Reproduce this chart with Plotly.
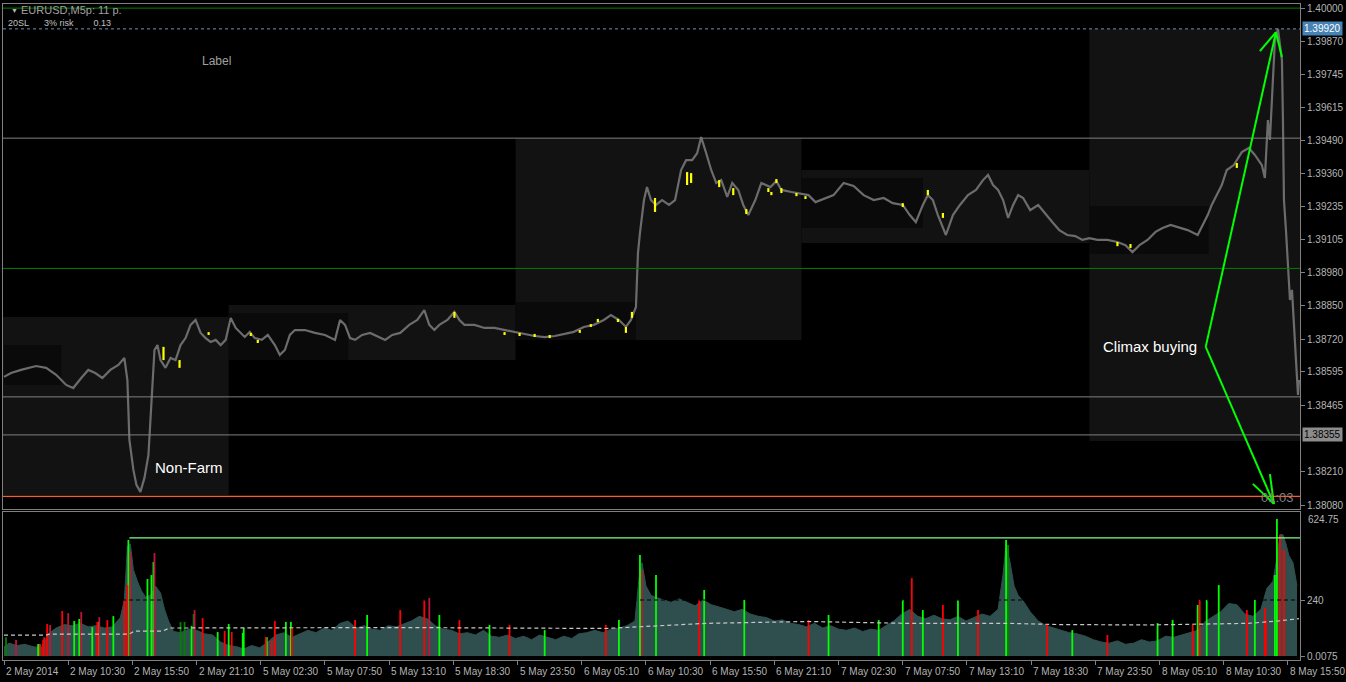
import plotly.graph_objects as go

# ---------------- data ----------------
# M5 bar index (0 = first bar on chart) and close prices
bar_idx = [0, 7, 17, 32, 42, 52, 62, 69, 77, 84, 91, 98, 106, 114, 120, 123, 125, 127, 129, 132, 136, 140,
           144, 146, 148, 150, 153, 156, 161, 166, 171, 176, 181, 186, 191, 196, 201, 206, 211, 216, 221,
           226, 231, 236, 240, 245, 250, 257, 263, 270, 275, 280, 285, 290, 300, 310, 320, 330, 335, 340,
           345, 350, 357, 365, 373, 380, 387, 395, 404, 412, 419, 424, 429, 434, 442, 449, 454, 459, 469,
           479, 489, 499, 509, 519, 529, 539, 549, 559, 568, 578, 588, 598, 605, 613, 620, 625, 630, 632,
           634, 638, 641, 645, 650, 656, 663, 669, 675, 680, 686, 691, 695, 700, 705, 710, 715, 721, 726,
           732, 737, 742, 749, 755, 764, 770, 775, 785, 792, 802, 809, 819, 827, 837, 847, 857, 867, 877,
           886, 896, 903, 909, 916, 921, 926, 931, 939, 946, 953, 961, 969, 976, 981, 986, 991, 996, 1001,
           1006, 1011, 1016, 1023, 1031, 1039, 1045, 1052, 1060, 1068, 1075, 1082, 1090, 1100, 1110, 1118,
           1125, 1132, 1140, 1148, 1155, 1163, 1170, 1180, 1190, 1195, 1200, 1204, 1209, 1214, 1219, 1226,
           1234, 1241, 1247, 1254, 1257, 1260, 1262, 1265, 1267, 1270, 1272, 1274, 1275, 1276, 1278, 1280,
           1282, 1284, 1286, 1288, 1290, 1291]
close_px = [1.38576, 1.38591, 1.38603, 1.38618, 1.38611, 1.38584, 1.38545, 1.38533, 1.38572, 1.38603,
            1.38591, 1.38572, 1.38603, 1.38622, 1.38649, 1.38564, 1.38333, 1.38275, 1.38217, 1.38159,
            1.38132, 1.38186, 1.38275, 1.38410, 1.38564, 1.38680, 1.38699, 1.38641, 1.38611, 1.38649,
            1.38641, 1.38699, 1.38726, 1.38777, 1.38796, 1.38746, 1.38726, 1.38711, 1.38719, 1.38699,
            1.38719, 1.38804, 1.38765, 1.38746, 1.38730, 1.38750, 1.38726, 1.38719, 1.38738, 1.38699,
            1.38661, 1.38680, 1.38738, 1.38757, 1.38757, 1.38746, 1.38738, 1.38719, 1.38796, 1.38777,
            1.38726, 1.38719, 1.38738, 1.38746, 1.38730, 1.38719, 1.38738, 1.38746, 1.38777, 1.38796,
            1.38834, 1.38777, 1.38757, 1.38777, 1.38796, 1.38827, 1.38796, 1.38777, 1.38777, 1.38765,
            1.38765, 1.38757, 1.38750, 1.38742, 1.38734, 1.38730, 1.38734, 1.38742, 1.38750, 1.38769,
            1.38777, 1.38796, 1.38815, 1.38796, 1.38769, 1.38796, 1.38846, 1.39054, 1.39132, 1.39259,
            1.39309, 1.39259, 1.39240, 1.39259, 1.39240, 1.39259, 1.39375, 1.39413, 1.39413, 1.39440,
            1.39502, 1.39440, 1.39375, 1.39325, 1.39336, 1.39271, 1.39325, 1.39298, 1.39240, 1.39201,
            1.39259, 1.39325, 1.39309, 1.39332, 1.39298, 1.39290, 1.39286, 1.39278, 1.39251, 1.39267,
            1.39278, 1.39325, 1.39313, 1.39278, 1.39259, 1.39267, 1.39247, 1.39240, 1.39201, 1.39174,
            1.39240, 1.39278, 1.39259, 1.39201, 1.39124, 1.39201, 1.39240, 1.39278, 1.39298, 1.39336,
            1.39356, 1.39317, 1.39298, 1.39259, 1.39190, 1.39240, 1.39278, 1.39267, 1.39220, 1.39240,
            1.39201, 1.39174, 1.39143, 1.39124, 1.39120, 1.39105, 1.39112, 1.39105, 1.39105, 1.39097,
            1.39085, 1.39058, 1.39085, 1.39105, 1.39136, 1.39151, 1.39163, 1.39155, 1.39143, 1.39124,
            1.39163, 1.39201, 1.39240, 1.39278, 1.39317, 1.39375, 1.39394, 1.39444, 1.39460, 1.39433,
            1.39394, 1.39344, 1.39568, 1.39491, 1.39761, 1.39877, 1.39920, 1.39857, 1.39799, 1.39568,
            1.39259, 1.39143, 1.38989, 1.38873, 1.38912, 1.38757, 1.38641, 1.38506, 1.38564]

# highlighted (yellow) bars: index, low, high
yel_idx = [159, 175, 204, 246, 253, 449, 499, 514, 529, 544, 574, 585, 592, 612, 620, 626, 649, 681, 685,
           713, 727, 740, 762, 765, 770, 775, 790, 799, 896, 921, 936, 1110, 1123, 1229]
yel_lo = [1.38641, 1.38611, 1.38738, 1.38734, 1.38707, 1.38804, 1.38738, 1.38734, 1.38730, 1.38726,
          1.38746, 1.38769, 1.38788, 1.38788, 1.38746, 1.38804, 1.39213, 1.39317, 1.39325, 1.39309,
          1.39278, 1.39205, 1.39290, 1.39278, 1.39325, 1.39286, 1.39274, 1.39263, 1.39232, 1.39278,
          1.39190, 1.39081, 1.39074, 1.39383]
yel_hi = [1.38692, 1.38641, 1.38749, 1.38746, 1.38719, 1.38827, 1.38749, 1.38746, 1.38742, 1.38738,
          1.38757, 1.38780, 1.38800, 1.38800, 1.38769, 1.38827, 1.39267, 1.39367, 1.39363, 1.39336,
          1.39305, 1.39224, 1.39305, 1.39290, 1.39340, 1.39305, 1.39286, 1.39274, 1.39247, 1.39298,
          1.39209, 1.39097, 1.39089, 1.39402]

# volume histogram (envelope)
vol_idx = [0, 5, 13, 21, 29, 37, 44, 52, 60, 68, 76, 84, 92, 100, 108, 116, 120, 123, 126, 129, 133, 137,
           141, 146, 151, 156, 160, 164, 169, 176, 184, 192, 200, 208, 216, 224, 232, 239, 247, 255, 263,
           271, 279, 287, 295, 303, 311, 319, 327, 335, 343, 351, 359, 367, 375, 383, 391, 399, 406, 414,
           422, 430, 438, 446, 454, 462, 470, 478, 486, 494, 502, 510, 518, 526, 534, 542, 550, 558, 566,
           573, 581, 589, 597, 605, 613, 621, 629, 633, 636, 640, 645, 651, 657, 665, 673, 681, 689, 697,
           705, 713, 721, 728, 736, 744, 752, 760, 768, 776, 784, 792, 800, 808, 816, 824, 832, 840, 848,
           856, 864, 872, 879, 887, 895, 903, 911, 919, 927, 935, 943, 951, 959, 967, 975, 983, 991, 996,
           999, 1003, 1007, 1011, 1017, 1023, 1031, 1039, 1046, 1054, 1062, 1070, 1078, 1086, 1094, 1102,
           1110, 1118, 1126, 1134, 1142, 1150, 1158, 1166, 1174, 1182, 1190, 1198, 1205, 1213, 1221, 1229,
           1237, 1245, 1253, 1259, 1265, 1269, 1272, 1275, 1278, 1281, 1285, 1289]
vol_val = [40, 55, 45, 50, 40, 35, 95, 120, 135, 130, 140, 125, 130, 120, 125, 165, 240, 470, 480, 370,
           320, 280, 253, 260, 300, 270, 200, 150, 105, 100, 115, 110, 95, 90, 60, 45, 40, 30, 45, 35, 60,
           90, 100, 80, 95, 110, 100, 120, 110, 140, 150, 120, 130, 115, 110, 130, 125, 140, 150, 170, 160,
           130, 115, 110, 95, 100, 90, 110, 85, 80, 90, 75, 85, 70, 90, 80, 70, 85, 75, 95, 100, 110, 100,
           115, 120, 130, 150, 330, 400, 300, 260, 250, 240, 230, 245, 230, 215, 240, 220, 210, 200, 190,
           200, 180, 170, 165, 150, 155, 140, 135, 125, 140, 120, 130, 115, 110, 120, 105, 115, 110, 130,
           150, 180, 200, 170, 160, 175, 160, 155, 170, 150, 165, 180, 170, 200, 350, 480, 400, 300, 260,
           230, 190, 150, 130, 120, 110, 100, 95, 85, 70, 60, 55, 65, 50, 55, 70, 60, 65, 85, 80, 90, 100,
           110, 150, 170, 190, 225, 220, 180, 170, 200, 290, 320, 420, 520, 520, 480, 430, 400, 300]

# colored volume bars: index, value, colour class
spk_idx = [2, 12, 34, 35, 36, 39, 40, 43, 46, 58, 64, 70, 75, 77, 88, 93, 94, 95, 103, 109, 120, 123, 124,
           126, 143, 147, 149, 150, 176, 180, 187, 189, 190, 198, 213, 220, 224, 227, 238, 239, 261, 262,
           267, 270, 281, 286, 287, 350, 362, 395, 419, 424, 434, 454, 484, 504, 539, 600, 613, 634, 636,
           650, 693, 698, 738, 802, 822, 872, 896, 905, 916, 936, 951, 971, 999, 1001, 1040, 1065, 1100,
           1150, 1165, 1185, 1190, 1192, 1199, 1211, 1239, 1247, 1257, 1258, 1267, 1269, 1272, 1276]
spk_val = [81, 69, 51, 51, 51, 69, 80, 137, 133, 193, 184, 150, 159, 189, 124, 146, 146, 167, 154, 171,
           240, 304, 497, 446, 330, 347, 403, 441, 146, 146, 129, 180, 197, 163, 103, 107, 137, 103, 99,
           120, 81, 81, 64, 150, 146, 146, 124, 154, 176, 197, 240, 249, 176, 154, 133, 133, 111, 133, 154,
           433, 369, 347, 240, 283, 240, 154, 176, 154, 240, 334, 197, 219, 240, 197, 497, 476, 133, 111,
           90, 141, 154, 133, 219, 240, 240, 304, 197, 240, 206, 154, 347, 587, 519, 454]
spk_cls = ['dg', 'dr', 'g', 'g', 'r', 'r', 'r', 'r', 'dr', 'r', 'dr', 'g', 'g', 'dr', 'g', 'r', 'g', 'dr',
           'r', 'g', 'r', 'r', 'g', 'dr', 'g', 'g', 'g', 'dr', 'dg', 'dg', 'g', 'dg', 'dr', 'r', 'g', 'r',
           'g', 'r', 'g', 'g', 'r', 'g', 'r', 'r', 'g', 'g', 'r', 'r', 'g', 'r', 'r', 'dr', 'g', 'r', 'g',
           'r', 'g', 'r', 'g', 'g', 'dr', 'g', 'r', 'g', 'g', 'r', 'g', 'g', 'g', 'r', 'g', 'r', 'g', 'r',
           'g', 'dg', 'r', 'g', 'r', 'g', 'g', 'r', 'g', 'r', 'g', 'g', 'r', 'g', 'r', 'r', 'g', 'g', 'r', 'r']

# volume moving average (dashed)
ma_idx = [0, 42, 45, 125, 130, 158, 165, 300, 400, 600, 650, 700, 800, 900, 1000, 1050, 1140, 1240, 1270, 1291]
ma_val = [90, 90, 94, 94, 107, 107, 120, 120, 122, 118, 128, 140, 148, 140, 140, 135, 133, 140, 150, 160]

# daily range boxes (outer) and session boxes (inner): start, end, low, high
day_x0 = [-1, 224, 510, 795, 1082]
day_x1 = [224, 510, 795, 1082, 1292]
day_lo = [1.38120, 1.38641, 1.38719, 1.39093, 1.38329]
day_hi = [1.38807, 1.38854, 1.39498, 1.39375, 1.39919]
ses_x0 = [0, 224, 510, 795, 1082]
ses_x1 = [57, 343, 630, 916, 1201]
ses_lo = [1.38545, 1.38641, 1.38719, 1.39151, 1.39051]
ses_hi = [1.38699, 1.38823, 1.38865, 1.39344, 1.39236]

# horizontal levels
lvl_green = [1.40000, 1.38995]
lvl_grey = [1.39498, 1.38499, 1.38352]
lvl_orange = 1.38115
lvl_dashed = 1.39920
vol_high_level = 506
vol_high_start = 125
vol_mid_level = 240

# arrows ("Climax buying")
arr_up_x = [1198, 1268]
arr_up_y = [1.38692, 1.39907]
arr_up_w1 = [1252, 1.39834]
arr_up_w2 = [1274, 1.39811]
arr_dn_x = [1198, 1266]
arr_dn_y = [1.38692, 1.38086]
arr_dn_w1 = [1245, 1.38163]
arr_dn_w2 = [1262, 1.38201]

# axis ticks
price_ticks = [1.40000, 1.39870, 1.39745, 1.39615, 1.39490, 1.39360, 1.39235, 1.39105, 1.38980,
               1.38850, 1.38720, 1.38595, 1.38465, 1.38210, 1.38080]
time_tick_idx = [0, 64, 128, 192, 256, 320, 384, 448, 512, 576, 640, 704, 768, 832, 896, 960, 1024,
                 1088, 1152, 1216, 1280]
time_tick_lbl = ["2 May 2014", "2 May 10:30", "2 May 15:50", "2 May 21:10", "5 May 02:30", "5 May 07:50",
                 "5 May 13:10", "5 May 18:30", "5 May 23:50", "6 May 05:10", "6 May 10:30", "6 May 15:50",
                 "6 May 21:10", "7 May 02:30", "7 May 07:50", "7 May 13:10", "7 May 18:30", "7 May 23:50",
                 "8 May 05:10", "8 May 10:30", "8 May 15:50"]

# ---------------- figure ----------------
FONT = "Liberation Sans"
AX = "#808080"
TXT = "#b4b4b4"
XR = [-1, 1292]

fig = go.Figure()

fig.add_trace(go.Scatter(x=bar_idx, y=close_px, mode="lines", line=dict(color="#6c6c6c", width=2.2),
                         xaxis="x", yaxis="y", hoverinfo="skip"))
yx, yy = [], []
for i, lo, hi in zip(yel_idx, yel_lo, yel_hi):
    yx += [i, i, None]
    yy += [lo, hi, None]
fig.add_trace(go.Scatter(x=yx, y=yy, mode="lines", line=dict(color="#ffff00", width=2.2),
                         xaxis="x", yaxis="y", hoverinfo="skip"))

fig.add_trace(go.Scatter(x=vol_idx, y=vol_val, mode="lines", fill="tozeroy", fillcolor="#2f4f4f",
                         line=dict(color="#2f4f4f", width=1), xaxis="x2", yaxis="y2", hoverinfo="skip"))
cls_col = {"g": "#00ff00", "r": "#ff0000", "dg": "#008000", "dr": "#c0143c"}
for c, col in cls_col.items():
    sx, sy = [], []
    for i, v, k in zip(spk_idx, spk_val, spk_cls):
        if k == c:
            sx += [i, i, None]
            sy += [0, v, None]
    fig.add_trace(go.Scatter(x=sx, y=sy, mode="lines", line=dict(color=col, width=1.8),
                             xaxis="x2", yaxis="y2", hoverinfo="skip"))
fig.add_trace(go.Scatter(x=ma_idx, y=ma_val, mode="lines", line=dict(color="#c8c8c8", width=1.2, dash="4px,3px"),
                         xaxis="x2", yaxis="y2", hoverinfo="skip"))

shapes = []
for x0, x1, lo, hi in zip(day_x0, day_x1, day_lo, day_hi):
    shapes.append(dict(type="rect", xref="x", yref="y", x0=x0, x1=x1, y0=lo, y1=hi,
                       fillcolor="#121212", line=dict(width=0), layer="below"))
for x0, x1, lo, hi in zip(ses_x0, ses_x1, ses_lo, ses_hi):
    shapes.append(dict(type="rect", xref="x", yref="y", x0=x0, x1=x1, y0=lo, y1=hi,
                       fillcolor="#0a0a0a", line=dict(width=0), layer="below"))
for lv in lvl_green:
    shapes.append(dict(type="line", xref="x", yref="y", x0=XR[0], x1=XR[1], y0=lv, y1=lv,
                       line=dict(color="#008000", width=1)))
for lv in lvl_grey:
    shapes.append(dict(type="line", xref="x", yref="y", x0=XR[0], x1=XR[1], y0=lv, y1=lv,
                       line=dict(color="#808080", width=1)))
shapes.append(dict(type="line", xref="x", yref="y", x0=XR[0], x1=XR[1], y0=lvl_orange, y1=lvl_orange,
                   line=dict(color="#ff5a28", width=1.3)))
shapes.append(dict(type="line", xref="x", yref="y", x0=XR[0], x1=XR[1], y0=lvl_dashed, y1=lvl_dashed,
                   line=dict(color="#7090b0", width=1, dash="3px,3px")))
shapes.append(dict(type="line", xref="x2", yref="y2", x0=vol_high_start, x1=XR[1], y0=vol_high_level,
                   y1=vol_high_level, line=dict(color="#80ff80", width=1.2)))
shapes.append(dict(type="line", xref="x2", yref="y2", x0=XR[0], x1=XR[1], y0=vol_mid_level,
                   y1=vol_mid_level, line=dict(color="#000000", width=1, dash="4px,3px")))
GL = dict(color="#00ff00", width=2)
for (xa, ya), w1, w2 in [((arr_up_x, arr_up_y), arr_up_w1, arr_up_w2), ((arr_dn_x, arr_dn_y), arr_dn_w1, arr_dn_w2)]:
    shapes.append(dict(type="line", xref="x", yref="y", x0=xa[0], y0=ya[0], x1=xa[1], y1=ya[1], line=GL))
    shapes.append(dict(type="line", xref="x", yref="y", x0=xa[1], y0=ya[1], x1=w1[0], y1=w1[1], line=GL))
    shapes.append(dict(type="line", xref="x", yref="y", x0=xa[1], y0=ya[1], x1=w2[0], y1=w2[1], line=GL))

ann = []
for i, t in zip(time_tick_idx, time_tick_lbl):
    ann.append(dict(x=i, xref="x2", y=-0.018, yref="paper", text=t, showarrow=False, xanchor="left",
                    yanchor="middle", xshift=0, font=dict(family=FONT, size=10, color=TXT)))
ann += [
    dict(x=1.0015, xref="paper", y=lvl_dashed, yref="y", text="1.39920", showarrow=False, xanchor="left",
         yanchor="middle", bgcolor="#4682b4", borderpad=1, font=dict(family=FONT, size=10, color="#ffffff")),
    dict(x=1.0015, xref="paper", y=1.38355, yref="y", text="1.38355", showarrow=False, xanchor="left",
         yanchor="middle", bgcolor="#8c8c8c", borderpad=1, font=dict(family=FONT, size=10, color="#000000")),
    dict(x=1.0045, xref="paper", y=587, yref="y2", text="624.75", showarrow=False, xanchor="left",
         yanchor="middle", font=dict(family=FONT, size=10, color=TXT)),
    dict(x=0.0045, xref="paper", y=0.9905, yref="paper", text="▼", showarrow=False, xanchor="left",
         yanchor="middle", font=dict(family=FONT, size=7, color=TXT)),
    dict(x=0.0125, xref="paper", y=0.9905, yref="paper", text="EURUSD,M5p: 11 p.", showarrow=False,
         xanchor="left", yanchor="middle", font=dict(family=FONT, size=11, color="#a0a0a0")),
    dict(x=0.002, xref="paper", y=0.971, yref="paper",
         text="20SL&nbsp;&nbsp;&nbsp;&nbsp;&nbsp;&nbsp;3% risk&nbsp;&nbsp;&nbsp;&nbsp;&nbsp;&nbsp;&nbsp;&nbsp;0.13",
         showarrow=False, xanchor="left", yanchor="middle", font=dict(family=FONT, size=9, color="#c0c0c0")),
    dict(x=212, xref="x", y=1.39796, yref="y", text="Label", showarrow=False, xanchor="center",
         yanchor="middle", font=dict(family=FONT, size=12, color="#a0a0a0")),
    dict(x=149, xref="x", y=1.38228, yref="y", text="Non-Farm", showarrow=False, xanchor="left",
         yanchor="middle", font=dict(family=FONT, size=15, color="#ffffff")),
    dict(x=1191, xref="x", y=1.38692, yref="y", text="Climax buying", showarrow=False, xanchor="right",
         yanchor="middle", font=dict(family=FONT, size=15, color="#ffffff")),
    dict(x=1270, xref="x", y=1.38109, yref="y", text="01:03", showarrow=False, xanchor="center",
         yanchor="middle", font=dict(family=FONT, size=13, color="#808080")),
]

fig.update_layout(
    width=1346, height=682, margin=dict(l=2, r=43, t=4, b=22, pad=0),
    paper_bgcolor="#000000", plot_bgcolor="#000000", showlegend=False,
    shapes=shapes, annotations=ann,
    xaxis=dict(domain=[0, 1], range=XR, anchor="y", showgrid=False, zeroline=False, showline=True,
               linecolor=AX, linewidth=1, mirror=True, showticklabels=False, ticks=""),
    xaxis2=dict(domain=[0, 1], range=XR, anchor="y2", matches="x", showgrid=False, zeroline=False,
                showline=True, linecolor=AX, linewidth=1, mirror=True, tickvals=time_tick_idx,
                ticks="outside", ticklen=4, tickcolor=AX, showticklabels=False),
    yaxis=dict(domain=[0.2302, 1], range=[1.38066, 1.40016], side="right", anchor="x",
               tickvals=price_ticks, ticktext=[f"{p:.5f}" for p in price_ticks], ticks="outside",
               ticklen=4, tickcolor=AX, tickfont=dict(family=FONT, size=10, color=TXT), showgrid=False,
               zeroline=False, showline=True, linecolor=AX, mirror=True),
    yaxis2=dict(domain=[0, 0.2256], range=[-17, 617], side="right", anchor="x2", tickvals=[0, 240],
                ticktext=["0.0075", "240"], ticks="outside", ticklen=4, tickcolor=AX,
                tickfont=dict(family=FONT, size=10, color=TXT), showgrid=False, zeroline=False,
                showline=True, linecolor=AX, mirror=True),
)

fig.write_html("out.html")
